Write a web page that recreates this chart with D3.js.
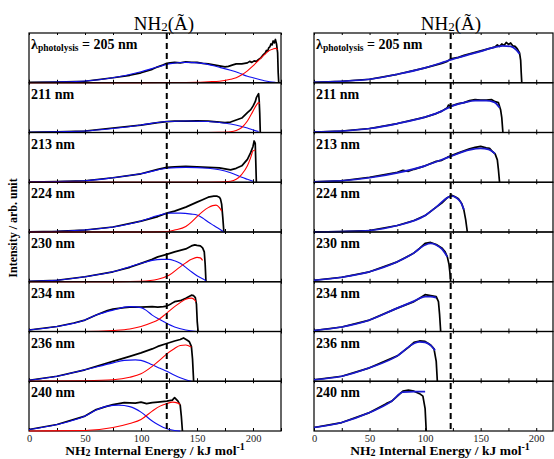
<!DOCTYPE html>
<html>
<head>
<meta charset="utf-8">
<script src="https://cdn.jsdelivr.net/npm/d3@7"></script>
<style>
body { margin: 0; background: #fff; }
text { font-family: "Liberation Serif", "Times New Roman", serif; }
</style>
</head>
<body>
<div id="chart"></div>
<script>
// photolysis wavelengths, one row of panels each
const wavelengths = ["205", "211", "213", "224", "230", "234", "236", "240"]
const energyLabels = [0, 50, 100, 150, 200]
const energyTicks = [0, 25, 50, 75, 100, 125, 150, 175, 200, 225]
const thresholdEnergy = 123

// left column: measured trace [E, I], low-energy fit (blue), high-energy fit (red)
const leftBlack = [
  [[0,0.01],[25,0.015],[50,0.03],[75,0.1],[90,0.15],[100,0.2],[110,0.27],[115,0.32],[120,0.36],[123,0.39],[126,0.4],[130,0.41],[135,0.4],[140,0.42],[145,0.41],[150,0.41],[155,0.39],[160,0.38],[165,0.36],[170,0.34],[175,0.32],[178,0.33],[182,0.36],[185,0.38],[190,0.38],[195,0.4],[197,0.43],[199,0.41],[201,0.44],[203,0.43],[205,0.47],[207,0.5],[209,0.56],[211,0.6],[212,0.65],[213,0.63],[214,0.7],[215,0.72],[216,0.78],[217,0.76],[218,0.84],[219,0.8],[220,0.87],[221,0.78],[222,0.6],[222.5,0.2],[223,0]],
  [[0,0.005],[25,0.015],[50,0.03],[75,0.09],[100,0.15],[115,0.2],[123,0.22],[130,0.23],[140,0.23],[150,0.235],[160,0.23],[170,0.21],[175,0.2],[180,0.21],[185,0.25],[190,0.29],[195,0.4],[198,0.46],[200,0.53],[202,0.62],[203,0.7],[204,0.74],[205,0.78],[205.5,0.65],[206,0.4],[206.5,0]],
  [[0,0.005],[25,0.015],[50,0.03],[75,0.09],[100,0.17],[115,0.26],[123,0.3],[130,0.31],[140,0.32],[150,0.31],[160,0.3],[170,0.29],[175,0.27],[180,0.25],[185,0.28],[190,0.33],[195,0.46],[198,0.6],[200,0.72],[201,0.83],[202,0.78],[202.5,0.4],[203,0]],
  [[0,0.005],[25,0.015],[50,0.04],[75,0.1],[100,0.22],[115,0.31],[123,0.38],[130,0.42],[140,0.5],[150,0.6],[155,0.65],[160,0.7],[165,0.72],[168,0.72],[170,0.7],[171,0.66],[172,0.56],[173,0.3],[174,0]],
  [[0,0.01],[25,0.03],[50,0.1],[75,0.2],[90,0.29],[100,0.37],[110,0.45],[115,0.5],[123,0.55],[130,0.6],[135,0.63],[140,0.66],[145,0.72],[148,0.74],[150,0.73],[153,0.72],[155,0.68],[156.5,0.6],[157.3,0.35],[158,0]],
  [[0,0.03],[25,0.1],[40,0.17],[50,0.23],[60,0.33],[70,0.42],[75,0.45],[85,0.48],[90,0.49],[100,0.49],[110,0.5],[115,0.49],[120,0.5],[123,0.51],[127,0.56],[130,0.6],[135,0.62],[140,0.67],[145,0.73],[147,0.72],[148.5,0.68],[149.5,0.55],[150.2,0.2],[151,0]],
  [[0,0.02],[25,0.1],[50,0.23],[75,0.4],[90,0.5],[100,0.57],[110,0.65],[115,0.7],[123,0.76],[130,0.81],[135,0.84],[138,0.87],[141,0.83],[143,0.8],[145,0.7],[146,0.45],[147,0]],
  [[0,0.03],[25,0.13],[50,0.3],[60,0.43],[70,0.5],[75,0.53],[85,0.57],[95,0.56],[100,0.58],[105,0.55],[110,0.57],[115,0.58],[123,0.6],[128,0.62],[130,0.67],[133,0.6],[135,0.52],[136,0.3],[137,0]]
]
const leftBlue = [
  [[0,0.005],[25,0.015],[50,0.035],[75,0.1],[100,0.22],[115,0.32],[125,0.38],[140,0.41],[155,0.39],[170,0.31],[180,0.25],[187,0.2],[195,0.13],[200,0.1],[205,0.07],[210,0.04],[215,0.02],[220,0.01]],
  [[0,0.005],[25,0.015],[50,0.03],[75,0.08],[100,0.15],[123,0.22],[140,0.23],[160,0.22],[170,0.2],[180,0.17],[190,0.12],[195,0.09],[200,0.05],[205,0.02]],
  [[0,0.005],[25,0.015],[50,0.03],[75,0.09],[100,0.17],[123,0.28],[140,0.3],[160,0.28],[170,0.25],[180,0.19],[190,0.1],[195,0.06],[200,0.02]],
  [[0,0.005],[25,0.015],[50,0.04],[75,0.1],[100,0.22],[115,0.33],[125,0.38],[135,0.38],[145,0.36],[150,0.34],[155,0.28],[160,0.2],[165,0.13],[170,0.06],[174,0]],
  [[0,0.01],[25,0.03],[50,0.1],[75,0.2],[100,0.37],[110,0.43],[118,0.45],[125,0.45],[130,0.42],[135,0.37],[140,0.29],[145,0.2],[150,0.12],[155,0.06],[158,0.02]],
  [[0,0.03],[25,0.1],[50,0.23],[60,0.33],[75,0.43],[90,0.5],[100,0.48],[105,0.42],[110,0.33],[115,0.26],[120,0.2],[130,0.09],[140,0.03],[150,0]],
  [[0,0.02],[25,0.1],[50,0.23],[75,0.37],[85,0.42],[95,0.43],[100,0.42],[110,0.33],[117,0.26],[123,0.2],[130,0.12],[135,0.07],[140,0.03],[145,0]],
  [[0,0.03],[25,0.13],[50,0.3],[60,0.42],[70,0.5],[80,0.52],[90,0.49],[100,0.38],[110,0.2],[115,0.13],[120,0.07],[130,0.01],[135,0]]
]
const leftRed = [
  [[0,0],[100,0],[130,0.005],[150,0.01],[160,0.02],[170,0.03],[180,0.07],[185,0.1],[190,0.16],[195,0.24],[200,0.34],[205,0.45],[210,0.56],[214,0.64],[218,0.68],[220,0.69],[222,0.67]],
  [[0,0],[150,0],[170,0.005],[180,0.015],[185,0.04],[190,0.1],[195,0.23],[200,0.43],[203,0.55],[205,0.6],[206,0.58]],
  [[0,0],[150,0],[170,0.005],[180,0.02],[185,0.06],[190,0.16],[195,0.33],[198,0.5],[200,0.63],[202,0.65]],
  [[0,0],[110,0],[123,0.01],[130,0.04],[140,0.11],[145,0.2],[150,0.31],[155,0.41],[160,0.49],[164,0.53],[167,0.54],[170,0.49],[172,0.42]],
  [[0,0],[80,0],[100,0.01],[115,0.05],[125,0.13],[135,0.3],[140,0.38],[145,0.45],[150,0.49],[153,0.48],[155,0.43]],
  [[0,0],[50,0],[75,0.02],[90,0.05],[100,0.1],[110,0.18],[115,0.23],[123,0.37],[130,0.5],[135,0.58],[140,0.65],[145,0.67],[148,0.63],[149,0.6]],
  [[0,0],[50,0.01],[75,0.03],[90,0.08],[100,0.15],[110,0.3],[117,0.43],[123,0.55],[130,0.66],[135,0.72],[140,0.73],[143,0.71],[145,0.69]],
  [[0,0],[50,0.01],[75,0.07],[90,0.15],[100,0.23],[110,0.4],[117,0.5],[123,0.55],[128,0.58],[133,0.56],[135,0.53]]
]

// right column: measured trace and single fit (blue)
const rightBlack = [
  [[0,0.01],[25,0.03],[50,0.07],[75,0.17],[100,0.3],[110,0.36],[115,0.39],[120,0.43],[123,0.48],[130,0.51],[135,0.55],[140,0.58],[150,0.64],[160,0.7],[163,0.72],[165,0.76],[167,0.73],[169,0.78],[171,0.75],[173,0.81],[175,0.77],[177,0.8],[179,0.74],[181,0.73],[183,0.68],[185,0.6],[186,0.45],[186.5,0.2],[187,0]],
  [[0,0.01],[25,0.03],[50,0.08],[75,0.18],[100,0.31],[110,0.38],[115,0.43],[120,0.5],[121,0.55],[123,0.53],[130,0.58],[135,0.6],[140,0.64],[145,0.66],[150,0.65],[155,0.65],[160,0.66],[163,0.62],[166,0.6],[168,0.45],[169,0.3],[170,0]],
  [[0,0.01],[25,0.03],[50,0.1],[75,0.2],[80,0.24],[85,0.22],[90,0.26],[100,0.33],[110,0.42],[115,0.44],[120,0.5],[123,0.53],[130,0.59],[135,0.63],[140,0.67],[145,0.7],[150,0.72],[155,0.69],[158,0.68],[160,0.63],[163,0.57],[165,0.45],[166,0.25],[167,0]],
  [[0,0],[25,0.01],[50,0.03],[75,0.13],[90,0.23],[100,0.33],[110,0.5],[115,0.58],[120,0.69],[124,0.74],[127,0.71],[130,0.67],[133,0.57],[135,0.43],[136.5,0.25],[138,0]],
  [[0,0.03],[25,0.09],[50,0.2],[75,0.4],[85,0.52],[90,0.58],[95,0.67],[100,0.77],[105,0.79],[110,0.75],[115,0.68],[118,0.6],[120,0.5],[121.5,0.35],[122.5,0.15],[123,0]],
  [[0,0.02],[25,0.09],[50,0.23],[75,0.47],[90,0.6],[95,0.67],[100,0.74],[105,0.72],[110,0.7],[112,0.6],[113,0.35],[114,0]],
  [[0,0.03],[25,0.1],[50,0.27],[75,0.51],[85,0.68],[90,0.78],[95,0.81],[100,0.8],[105,0.73],[108,0.65],[110,0.4],[111,0]],
  [[0,0.07],[25,0.17],[50,0.37],[65,0.55],[70,0.6],[80,0.8],[85,0.82],[90,0.8],[95,0.75],[98,0.7],[100,0.45],[101,0]]
]
const rightBlue = [
  [[0,0.01],[25,0.03],[50,0.07],[75,0.17],[100,0.3],[123,0.46],[140,0.57],[150,0.63],[160,0.7],[170,0.74],[177,0.73],[182,0.66],[185,0.58]],
  [[0,0.01],[25,0.03],[50,0.08],[75,0.18],[100,0.31],[115,0.43],[123,0.52],[135,0.6],[145,0.64],[155,0.64],[162,0.61],[167,0.5]],
  [[0,0.01],[25,0.03],[50,0.09],[75,0.19],[100,0.33],[123,0.52],[140,0.65],[150,0.68],[157,0.66],[163,0.57]],
  [[0,0],[25,0.01],[50,0.03],[75,0.13],[100,0.33],[110,0.5],[120,0.69],[124,0.72],[128,0.69],[132,0.6],[135,0.45]],
  [[0,0.03],[25,0.09],[50,0.2],[75,0.4],[90,0.58],[100,0.74],[105,0.77],[110,0.74],[115,0.66],[120,0.5]],
  [[0,0.02],[25,0.09],[50,0.23],[75,0.47],[90,0.61],[100,0.7],[105,0.7],[110,0.68]],
  [[0,0.03],[25,0.1],[50,0.27],[75,0.51],[90,0.76],[95,0.79],[100,0.78],[105,0.72],[109,0.62]],
  [[0,0.07],[25,0.17],[50,0.37],[70,0.6],[80,0.78],[90,0.79],[100,0.79]]
]

function drawChart(){
    let width = 554
    let height = 459
    let top = 33
    let panelH = 49.75
    let svg = d3.select("#chart")
        .append("svg")
            .attr("width", width)
            .attr("height", height)

    let columns = [
        {x: d3.scaleLinear().domain([0,225]).range([29,281]), right: 281, black: leftBlack, fits: [[leftBlue,"#1010ee",1.1],[leftRed,"#ff0000",1.1]], cx: 164, lx: 155},
        {x: d3.scaleLinear().domain([0,225]).range([314,564]), right: 553, black: rightBlack, fits: [[rightBlue,"#1a1ad0",1.7]], cx: 451, lx: 440}
    ]

    columns.forEach(function(col){
        let x = col.x
        wavelengths.forEach(function(w,i){
            let y = d3.scaleLinear().domain([0,1]).range([top + panelH*(i+1), top + panelH*i])
            let g = svg.append("g")

            g.append("rect")
                .attr("x", x(0)).attr("y", y(1))
                .attr("width", col.right - x(0)).attr("height", panelH)
                .attr("fill", "none").attr("stroke", "black").attr("stroke-width", 1.2)

            // inward ticks on bottom and top of every panel
            g.append("g")
                .attr("transform", "translate(0," + y(0) + ")")
                .call(d3.axisBottom(x).tickValues(energyTicks).tickSize(-3).tickFormat(""))
                .call(a => a.select(".domain").remove())
            g.append("g")
                .attr("transform", "translate(0," + y(1) + ")")
                .call(d3.axisTop(x).tickValues(energyTicks).tickSize(-2).tickFormat(""))
                .call(a => a.select(".domain").remove())

            let line = d3.line().x(d => x(d[0])).y(d => y(d[1]))
            g.append("path")
                .attr("fill", "none").attr("stroke", "black").attr("stroke-width", 1.7)
                .attr("stroke-linejoin", "round")
                .attr("d", line(col.black[i]))
            let smooth = d3.line().x(d => x(d[0])).y(d => y(d[1])).curve(d3.curveMonotoneX)
            col.fits.forEach(function(f){
                g.append("path")
                    .attr("fill", "none").attr("stroke", f[1]).attr("stroke-width", f[2])
                    .attr("d", smooth(f[0][i]))
            })

            let label = g.append("text")
                .attr("x", x(0) + 2).attr("y", y(1) + 16)
                .attr("font-size", 14).attr("font-weight", "bold")
            if (i == 0) {
                label.append("tspan").text("\u03bb")
                label.append("tspan").attr("font-size", 9.5).attr("dy", 2).text("photolysis")
                label.append("tspan").attr("dy", -2).text(" = " + w + " nm")
            } else {
                label.text(w + " nm")
            }
        })

        // dashed threshold line
        svg.append("line")
            .attr("x1", x(thresholdEnergy)).attr("x2", x(thresholdEnergy))
            .attr("y1", top).attr("y2", top + panelH*8)
            .attr("stroke", "black").attr("stroke-width", 2)
            .attr("stroke-dasharray", "6,4")

        // bottom tick labels
        svg.append("g")
            .attr("transform", "translate(0," + (top + panelH*8) + ")")
            .call(d3.axisBottom(x).tickValues(energyLabels).tickSize(0).tickPadding(4))
            .call(a => a.select(".domain").remove())
            .selectAll("text")
                .attr("font-family", "Liberation Serif").attr("font-size", 10.5).attr("fill", "#222")

        let title = svg.append("text")
            .attr("x", col.cx).attr("y", 30)
            .attr("text-anchor", "middle").attr("font-size", 19)
        title.append("tspan").text("NH")
        title.append("tspan").attr("font-size", 13).attr("dy", 1).text("2")
        title.append("tspan").attr("dy", -1).text("(\u00c3)")

        let xl = svg.append("text")
            .attr("x", col.lx).attr("y", 455)
            .attr("text-anchor", "middle").attr("font-size", 13.5).attr("font-weight", "bold")
        xl.append("tspan").text("NH")
        xl.append("tspan").attr("font-size", 10).attr("dy", 1).text("2")
        xl.append("tspan").attr("dy", -1).text(" Internal Energy / kJ mol")
        xl.append("tspan").attr("font-size", 10).attr("dy", -5).text("-1")
    })

    svg.append("text")
        .attr("transform", "translate(17,228) rotate(-90)")
        .attr("text-anchor", "middle").attr("font-size", 12).attr("font-weight", "bold")
        .text("Intensity / arb. unit")
}
drawChart()
</script>
</body>
</html>
